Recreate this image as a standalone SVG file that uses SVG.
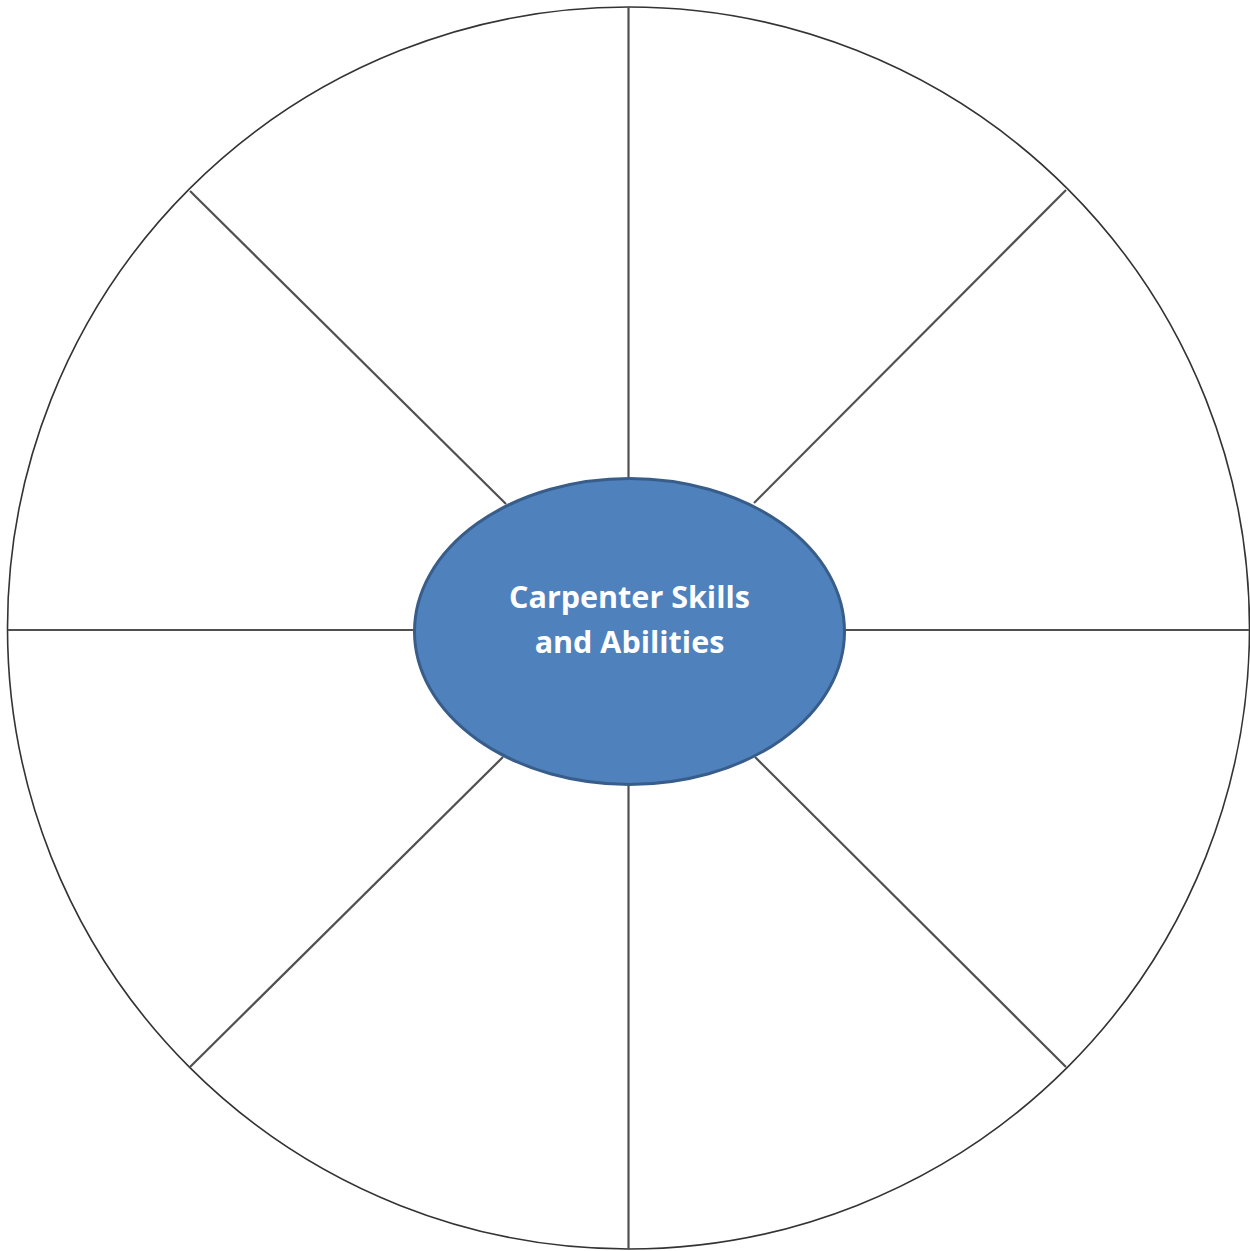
<svg xmlns="http://www.w3.org/2000/svg" width="1250" height="1251" viewBox="0 0 1250 1251">
<style>
.spoke{stroke:#505050;stroke-width:2.2;fill:none}
.rim{stroke:#333;stroke-width:1.6;fill:none}
.hub{fill:#4F81BD;stroke:#385D8A;stroke-width:3}
.lbl{font-family:"Open Sans","Noto Sans",sans-serif;font-weight:bold;font-size:30.5px;fill:#fff;text-anchor:middle}
</style>
<rect width="1250" height="1251" fill="#fff"/>
<g id="wheel">
<circle class="rim" cx="628.5" cy="628" r="621"/>
</g>
<g id="connectors">
<line class="spoke" x1="628.5" y1="7" x2="628.5" y2="478"/>
<line class="spoke" x1="628.5" y1="785" x2="628.5" y2="1249"/>
<line class="spoke" x1="8" y1="630" x2="414" y2="630"/>
<line class="spoke" x1="845" y1="630" x2="1249" y2="630"/>
<line class="spoke" x1="190" y1="191" x2="506" y2="504"/>
<line class="spoke" x1="1066" y1="190" x2="754" y2="503"/>
<line class="spoke" x1="190" y1="1067" x2="503" y2="757"/>
<line class="spoke" x1="1066" y1="1067" x2="755" y2="757"/>
</g>
<g id="hub">
<ellipse class="hub" cx="629.5" cy="631.5" rx="215" ry="153"/>
<text class="lbl" x="629.5" y="608">Carpenter Skills</text>
<text class="lbl" x="629.5" y="653">and Abilities</text>
</g>
</svg>
